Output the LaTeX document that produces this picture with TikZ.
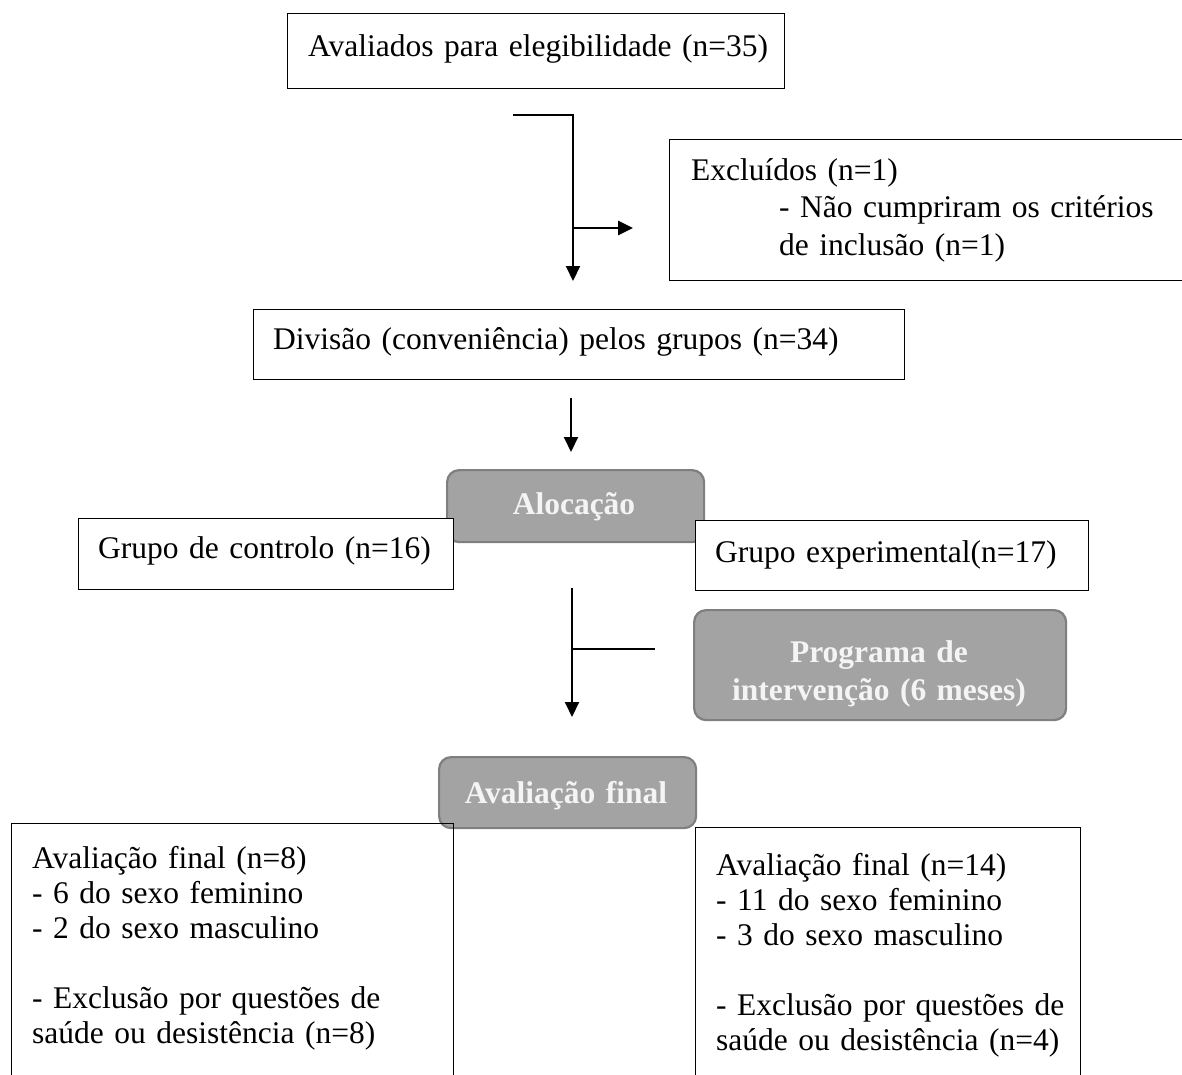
\documentclass[tikz,border=0pt]{standalone}
\usepackage{fontspec}
\setmainfont{Liberation Serif}
\usetikzlibrary{arrows.meta}
\definecolor{gfill}{HTML}{A3A3A3}
\definecolor{gborder}{HTML}{7F7F7F}
\definecolor{gtext}{HTML}{F4F4F4}
\tikzset{
  box/.style={draw=black, line width=1.3pt, fill=white, rectangle, inner sep=0pt, anchor=north west},
  openbox/.style={draw=black, line width=1.3pt, rectangle, inner sep=0pt, anchor=north west},
  gbox/.style={draw=gborder, fill=gfill, line width=2.2pt, rounded corners=12pt, rectangle, inner sep=0pt, anchor=north west},
  txt/.style={inner sep=0pt, anchor=base west, text width=700pt, align=left, font=\fontsize{31.5}{35}\selectfont},
  btxt/.style={inner sep=0pt, anchor=base, text width=400pt, align=center, text=gtext, font=\bfseries\fontsize{31.5}{38}\selectfont},
  conn/.style={line width=2pt},
  arr/.style={line width=2pt, -{Triangle[length=15pt,width=14pt]}},
}
\begin{document}
\begin{tikzpicture}[x=1pt,y=-1pt]
\useasboundingbox (0,0) rectangle (1182,1074);
\clip (0,0) rectangle (1182,1074);
% boxes
\node[box, minimum width=497pt, minimum height=75pt] (aval) at (287,13) {};
\node[box, minimum width=540pt, minimum height=141pt] (excl) at (669,139) {};
\node[box, minimum width=651pt, minimum height=70pt] (div) at (253,309) {};
\node[gbox, minimum width=257pt, minimum height=72pt] (aloc) at (446,469) {};
\node[box, minimum width=375pt, minimum height=71pt] (ctrl) at (78,518) {};
\node[box, minimum width=393pt, minimum height=70pt] (exp) at (695,520) {};
\node[gbox, minimum width=372pt, minimum height=110pt] (prog) at (693,609) {};
\node[gbox, minimum width=257pt, minimum height=71pt] (avf) at (438,756) {};
\node[openbox, minimum width=442pt, minimum height=320pt] (fl) at (11,823) {};
\node[openbox, minimum width=385pt, minimum height=320pt] (fr) at (695,827) {};
% texts
\node[txt] (taval) at (308,56) {Avaliados para elegibilidade (n=35)};
\node[txt, font=\fontsize{31.5}{37.7}\selectfont] (texcl) at (691,180) {Excluídos (n=1)\\\hspace*{88pt}- Não cumpriram os critérios\\\hspace*{88pt}de inclusão (n=1)};
\node[txt] (tdiv) at (273,349) {Divisão (conveniência) pelos grupos (n=34)};
\node[btxt] (taloc) at (574,514) {Alocação};
\node[txt] (tctrl) at (98,558) {Grupo de controlo (n=16)};
\node[txt] (texp) at (715,562) {Grupo experimental(n=17)};
\node[btxt] (tprog) at (879,662) {Programa de\\intervenção (6 meses)};
\node[btxt] (tavf) at (566,803) {Avaliação final};
\node[txt] (tfl) at (32,868) {Avaliação final (n=8)\\- 6 do sexo feminino\\- 2 do sexo masculino\\[35pt]- Exclusão por questões de\\saúde ou desistência (n=8)};
\node[txt] (tfr) at (716,875) {Avaliação final (n=14)\\- 11 do sexo feminino\\- 3 do sexo masculino\\[35pt]- Exclusão por questões de\\saúde ou desistência (n=4)};
% connectors
\coordinate (c0) at (513,115);
\coordinate (j1) at (573,228);
\draw[line width=2.6pt] (c0) -- (c0 -| j1) -- (j1);
\draw[arr, line width=2.6pt, shorten >=36pt] (j1) -- (j1 -| excl.west);
\draw[arr, shorten >=28pt] (j1) -- (j1 |- div.north);
\coordinate (a2) at (571,400);
\draw[arr, shorten <=18pt, shorten >=17pt] (div.south -| a2) -- (aloc.north -| a2);
\coordinate (s2) at (572,588);
\coordinate (j2) at (572,649);
\draw[arr, shorten >=39pt] (s2) -- (j2 |- avf.north);
\draw[conn, shorten >=38pt] (j2) -- (j2 -| prog.west);
\end{tikzpicture}
\end{document}
